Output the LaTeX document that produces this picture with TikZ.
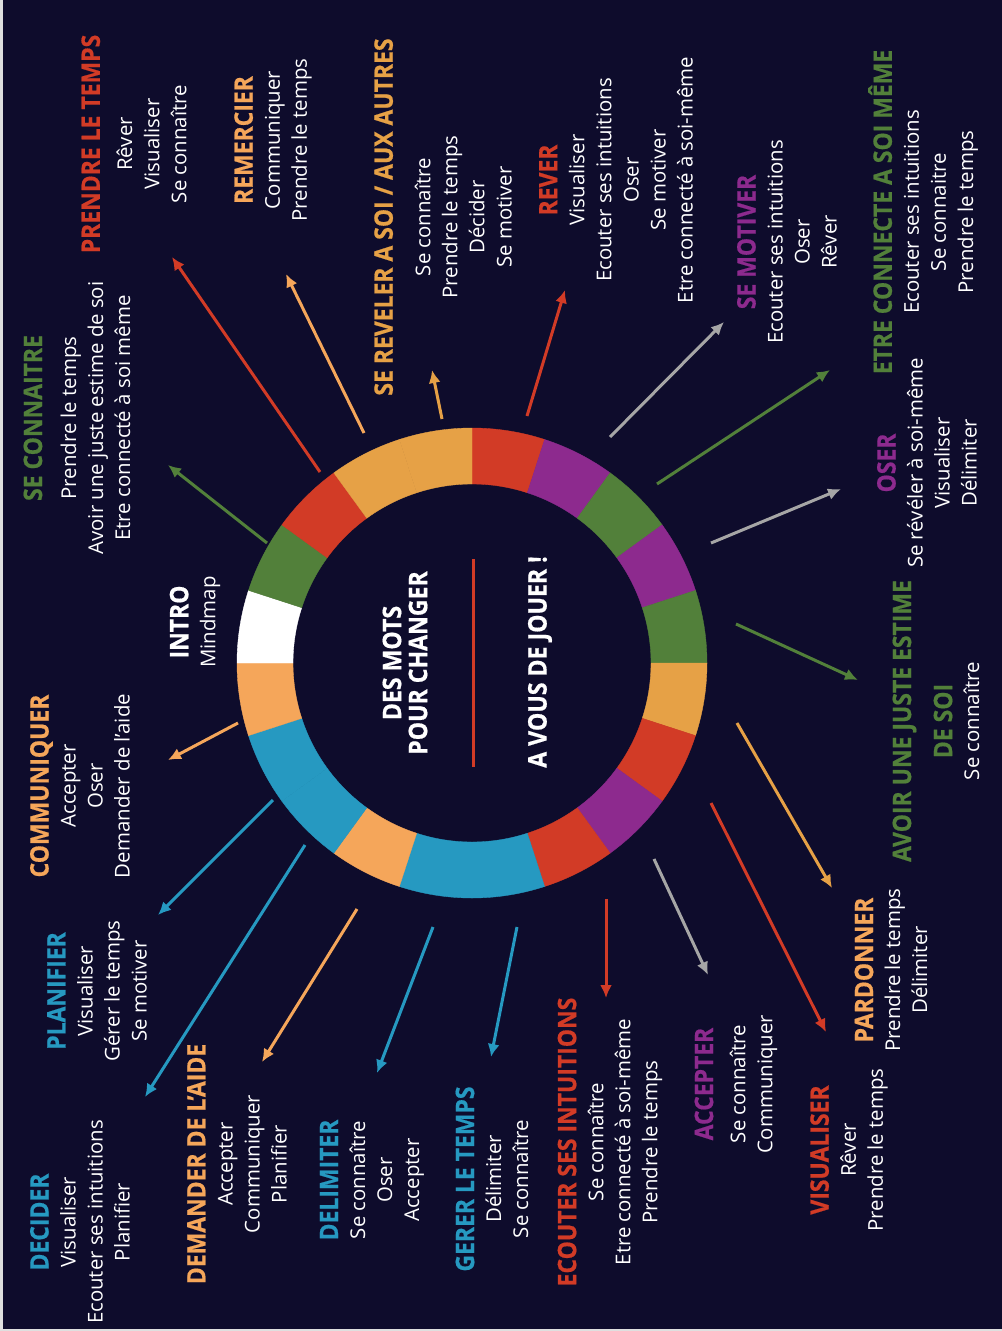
\documentclass[tikz,border=0pt]{standalone}
\usepackage{fontspec}
\setmainfont{Open Sans}
\newfontfamily\headfont{Open Sans}[FakeStretch=0.9,FakeBold=0.6]
\usetikzlibrary{arrows.meta}

\definecolor{fond}{HTML}{0E0C2C}
\definecolor{rouge}{HTML}{D23B26}
\definecolor{or}{HTML}{E6A146}
\definecolor{abricot}{HTML}{F5A65A}
\definecolor{bleu}{HTML}{2699C1}
\definecolor{vert}{HTML}{52803A}
\definecolor{mauve}{HTML}{8D2A8E}
\definecolor{gris}{HTML}{A6A6A6}

% bold heading word of a block
\newcommand\motcle[2]{{\headfont\bfseries\fontsize{14.5}{15.4}\selectfont\color{#1}#2}}

\tikzset{
  bloc/.style={rotate=90, align=center, text=white, inner sep=0pt,
    font=\fontsize{11.6}{15.4}\selectfont},
  gros/.style={bloc, font=\headfont\bfseries\fontsize{14.6}{14.8}\selectfont},
  fleche/.style={line width=0.6mm, -{Latex[length=2.6mm,width=2.4mm]}},
}

\begin{document}
\begin{tikzpicture}[x=0.2mm,y=-0.2mm]
		\useasboundingbox (0,0) rectangle (1002,1331);
		\fill[gray!25] (0,0) rectangle (1002,1331);
		\fill[fond] (3,0) rectangle (1002,1329);
		
		%%%%% RING %%%%%
		\begin{scope}[shift={(472,663)}, x=0.2mm, y=0.2mm]
		\foreach \c [count=\k from 0] in {rouge,mauve,vert,mauve,vert,or,rouge,mauve,rouge,bleu,
				bleu,abricot,bleu,bleu,abricot,white,vert,rouge,or,or}
			\filldraw[\c, line width=0.2pt] (90-18*\k:179) arc (90-18*\k:72-18*\k:179)
				-- (72-18*\k:235) arc (72-18*\k:90-18*\k:235) -- cycle;
		\end{scope}
		
		\node[gros] (titre) at (405,663) {DES MOTS\\POUR CHANGER};
		\draw[rouge, line width=0.6mm] (473,559) -- (473,767);
		\node[gros] (jouer) at (540,662) {A VOUS DE JOUER !};
		
		%%%%% BLOCKS %%%%%
		\node[bloc] (prendre) at (134,144) {\motcle{rouge}{PRENDRE LE TEMPS}\\[3pt] Rêver\\ Visualiser\\ Se connaître};
		\node[bloc] (remercier) at (273,140) {\motcle{abricot}{REMERCIER}\\ Communiquer\\ Prendre le temps};
		\node[bloc] (reveler) at (443,217) {\motcle{or}{SE REVELER A SOI / AUX AUTRES}\\[6pt] Se connaître\\ Prendre le temps\\ Décider\\ Se motiver};
		\node[bloc] (seconnaitre) at (77,418) {\motcle{vert}{SE CONNAITRE}\\[4pt] Prendre le temps\\ Avoir une juste estime de soi\\ Etre connecté à soi même};
		\node[bloc] (rever) at (616,180) {\motcle{rouge}{REVER}\\ Visualiser\\ Ecouter ses intuitions\\ Oser\\ Se motiver\\ Etre connecté à soi-même};
		\node[bloc] (motiver) at (787,242) {\motcle{mauve}{SE MOTIVER}\\ Ecouter ses intuitions\\ Oser\\ Rêver};
		\node[bloc] (connecte) at (923,212) {\motcle{vert}{ETRE CONNECTE A SOI MÊME}\\ Ecouter ses intuitions\\ Se connaitre\\ Prendre le temps};
		\node[bloc] (oser) at (927,463) {\motcle{mauve}{OSER}\\ Se révéler à soi-même\\ Visualiser\\ Délimiter};
		\node[bloc] (estime) at (936,721) {\motcle{vert}{AVOIR UNE JUSTE ESTIME}\\[8pt] \motcle{vert}{DE SOI}\\ Se connaître};
		\node[bloc] (pardonner) at (891,970) {\motcle{abricot}{PARDONNER}\\ Prendre le temps\\ Délimiter};
		\node[bloc] (visualiser) at (849,1150) {\motcle{rouge}{VISUALISER}\\ Rêver\\ Prendre le temps};
		\node[bloc] (accepter) at (736,1084) {\motcle{mauve}{ACCEPTER}\\[3pt] Se connaître\\ Communiquer};
		\node[bloc] (ecouter) at (610,1142) {\motcle{rouge}{ECOUTER SES INTUITIONS}\\ Se connaître\\ Etre connecté à soi-même\\ Prendre le temps};
		\node[bloc] (gerer) at (492,1179) {\motcle{bleu}{GERER LE TEMPS}\\ Délimiter\\ Se connaître};
		\node[bloc] (delimiter) at (372,1180) {\motcle{bleu}{DELIMITER}\\ Se connaître\\ Oser\\ Accepter};
		\node[bloc] (demander) at (237,1164) {\motcle{abricot}{DEMANDER DE L’AIDE}\\ Accepter\\ Communiquer\\ Planifier};
		\node[bloc] (decider) at (80,1222) {\motcle{bleu}{DECIDER}\\ Visualiser\\ Ecouter ses intuitions\\ Planifier};
		\node[bloc] (planifier) at (97,991) {\motcle{bleu}{PLANIFIER}\\ Visualiser\\ Gérer le temps\\ Se motiver};
		\node[bloc] (communiquer) at (80,786) {\motcle{abricot}{COMMUNIQUER}\\ Accepter\\ Oser\\ Demander de l’aide};
		\node[bloc] (intro) at (195,622) {\motcle{white}{INTRO}\\ Mindmap};
		
		%%%%% ARROWS %%%%%
		\foreach \n/\px/\py in {d1/320/472, f1/172/257, d2/364/433, f2/286/274, d3/442/419, f3/432/370,
				d4/527/416, f4/565/290, d5/610/437, f5/724/322, d6/657/484, f6/830/370,
				d7/711/543, f7/841/489, d8/736/624, f8/858/680, d9/737/723, f9/832/888,
				d10/711/803, f10/826/1032, d11/654/859, f11/708/975, d12/606/899, f12/606/998,
				d13/517/927, f13/491/1057, d14/433/927, f14/377/1073, d15/357/909, f15/262/1062,
				d16/305/845, f16/145/1097, d17/273/800, f17/158/915, d18/238/723, f18/168/760,
				d19/267/543, f19/168/465}
			\coordinate (\n) at (\px,\py);
		\foreach \i/\c in {1/rouge, 2/abricot, 3/or, 4/rouge, 5/gris, 6/vert, 7/gris, 8/vert, 9/or, 10/rouge,
				11/gris, 12/rouge, 13/bleu, 14/bleu, 15/abricot, 16/bleu, 17/bleu, 18/abricot, 19/vert}
			\draw[fleche, \c] (d\i) -- (f\i);
		%%%%% END %%%%%
	\end{tikzpicture}
\end{document}
